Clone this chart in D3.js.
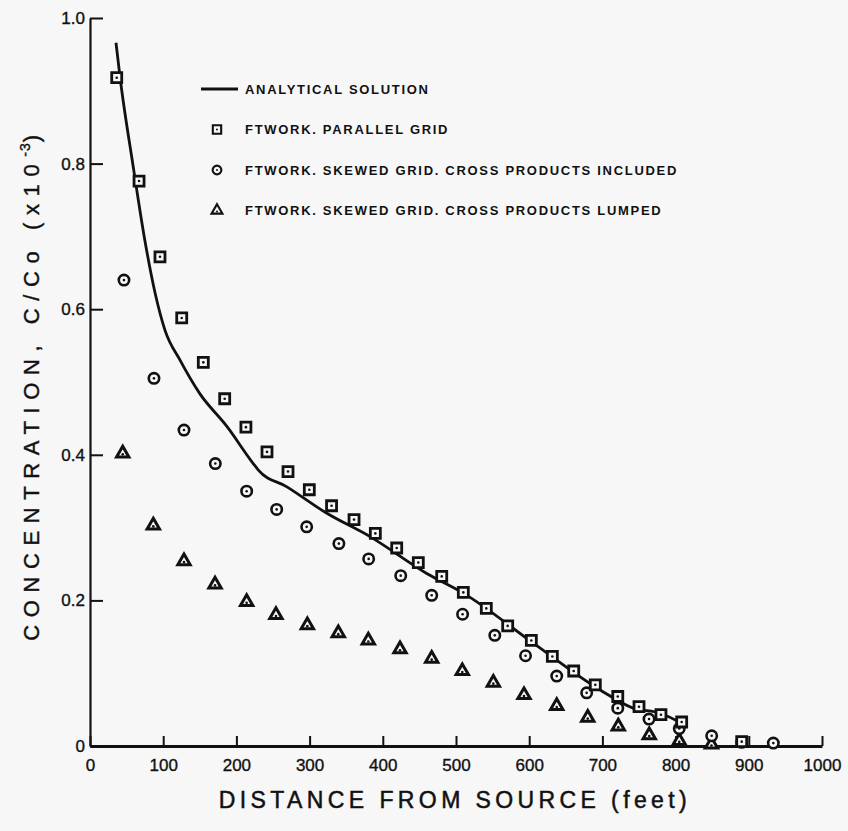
<!DOCTYPE html>
<html>
<head>
<meta charset="utf-8">
<script src="https://cdnjs.cloudflare.com/ajax/libs/d3/7.8.5/d3.min.js"></script>
<style>
  html, body { margin:0; padding:0; background:#f7f7f7; }
  svg { display:block; }
  text { font-family: "Liberation Sans", Arial, Helvetica, sans-serif; fill:#111; }
</style>
</head>
<body>
<div id="chart"></div>
<script>
  ////////////// DATA: distance (feet), C/Co (x10^-3) //////////////
  var analytical = [
    [35.5,0.966],[41,0.919],[59,0.796],[74,0.700],[89,0.622],[102.5,0.571],[123,0.530],
    [150,0.484],[187,0.439],[223,0.388],[230,0.379],[269,0.356],[323,0.320],
    [382,0.288],[460,0.237],[510,0.210],[606,0.141],[697,0.077],[742,0.052],
    [779,0.045],[808,0.031],[813,0.028]
  ]
  var parallelGrid = [
    [36.5,0.918],[67,0.776],[95.6,0.672],[125.3,0.588],[154.8,0.527],[184,0.477],
    [213,0.438],[241.8,0.404],[270.5,0.377],[299.6,0.352],[330,0.330],[360.7,0.311],
    [389.8,0.292],[419,0.272],[448.5,0.252],[480.5,0.233],[510,0.211],[541.4,0.189],
    [570.6,0.165],[602.9,0.145],[631.6,0.123],[660.8,0.103],[690.3,0.084],[721,0.068],
    [750,0.054],[780,0.043],[808.3,0.033],[890.3,0.006]
  ]
  var skewedIncluded = [
    [46.4,0.640],[87.4,0.505],[128.4,0.434],[171.2,0.388],[214,0.350],[255,0.325],
    [296,0.301],[340,0.278],[380.7,0.257],[424.5,0.234],[466.8,0.207],[509,0.181],
    [553,0.152],[595,0.124],[637.6,0.096],[678.5,0.073],[721,0.052],[763.7,0.037],
    [805,0.024],[849.3,0.014],[890.3,0.005],[933.5,0.004]
  ]
  var skewedLumped = [
    [44.7,0.402],[86.5,0.303],[128.4,0.254],[170.8,0.222],[214,0.198],[254,0.180],
    [296.9,0.166],[339.2,0.155],[380.2,0.145],[423.5,0.133],[466.8,0.120],[508.6,0.103],
    [551,0.087],[592.9,0.070],[637.6,0.055],[680,0.039],[721.7,0.027],[764,0.015],
    [805,0.007],[849,0.002]
  ]
  var xTicks = [0,100,200,300,400,500,600,700,800,900,1000]
  var yTicks = [0,0.2,0.4,0.6,0.8,1.0]
  var yTickLabels = ['0','0.2','0.4','0.6','0.8','1.0']
  var legendLabels = [
    'ANALYTICAL SOLUTION',
    'FTWORK. PARALLEL GRID',
    'FTWORK. SKEWED GRID. CROSS PRODUCTS INCLUDED',
    'FTWORK. SKEWED GRID. CROSS PRODUCTS LUMPED'
  ]
  var legendSymbols = ['line','square','circle','triangle']

  var w = 848
  var h = 831
  var ink = '#111'

  var svg = d3.select('#chart')
              .append('svg')
              .attr('width', w)
              .attr('height', h)

  svg.append('rect').attr('width', w).attr('height', h).attr('fill', '#f7f7f7')

  var x = d3.scaleLinear().domain([0, 1000]).range([90, 822])
  var y = d3.scaleLinear().domain([0, 1]).range([746, 18])

  ////////////// AXES //////////////
  var xAxis = d3.axisBottom(x)
                .tickValues(xTicks)
                .tickFormat(d3.format('d'))
                .tickSizeInner(-10)
                .tickSizeOuter(0)
                .tickPadding(13)

  var yAxis = d3.axisLeft(y)
                .tickValues(yTicks)
                .tickFormat(function(d, i){ return yTickLabels[i] })
                .tickSizeInner(-13)
                .tickSizeOuter(0)
                .tickPadding(5)

  var gx = svg.append('g')
    .attr('transform', 'translate(0,' + y(0) + ')')
    .call(xAxis)
  gx.select('.domain').attr('stroke', ink).attr('stroke-width', 3)
  gx.selectAll('.tick line').attr('stroke', ink).attr('stroke-width', 2)
  gx.selectAll('.tick text')
    .attr('fill', ink)
    .attr('stroke', ink)
    .attr('stroke-width', 0.35)
    .style('font-size', '17px')
    .style('font-family', '"Liberation Sans", Arial, sans-serif')

  var gy = svg.append('g')
    .attr('transform', 'translate(' + x(0) + ',0)')
    .call(yAxis)
  gy.select('.domain').attr('stroke', ink).attr('stroke-width', 2.2)
  gy.selectAll('.tick line').attr('stroke', ink).attr('stroke-width', 2)
  gy.selectAll('.tick text')
    .attr('fill', ink)
    .attr('stroke', ink)
    .attr('stroke-width', 0.35)
    .style('font-size', '17px')
    .style('font-family', '"Liberation Sans", Arial, sans-serif')

  ////////////// AXIS TITLES //////////////
  svg.append('text')
    .attr('x', 455)
    .attr('y', 808)
    .attr('text-anchor', 'middle')
    .style('font-size', '23px')
    .style('letter-spacing', '4.4px')
    .attr('stroke', ink)
    .attr('stroke-width', 0.5)
    .text('DISTANCE FROM SOURCE (feet)')

  var yt = svg.append('text')
    .attr('transform', 'translate(39,384) rotate(-90)')
    .attr('text-anchor', 'middle')
    .style('font-size', '22px')
    .style('letter-spacing', '7.6px')
    .attr('stroke', ink)
    .attr('stroke-width', 0.4)
  yt.append('tspan').text('CONCENTRATION, C/Co (x10')
  yt.append('tspan').attr('dy', -9).style('font-size', '14px').style('letter-spacing', '1px').text('-3')
  yt.append('tspan').attr('dy', 9).text(')')

  ////////////// SERIES //////////////
  var line = d3.line()
    .curve(d3.curveMonotoneX)
    .x(function(d){ return x(d[0]) })
    .y(function(d){ return y(d[1]) })

  svg.append('path')
    .datum(analytical)
    .attr('d', line)
    .attr('fill', 'none')
    .attr('stroke', ink)
    .attr('stroke-width', 2.8)
    .attr('stroke-linejoin', 'round')

  function markers(data, type, size, sw){
    var sym = d3.symbol().type(type).size(size)
    var g = svg.append('g')
    var pts = g.selectAll('g')
      .data(data)
      .enter()
      .append('g')
      .attr('transform', function(d){ return 'translate(' + x(d[0]) + ',' + y(d[1]) + ')' })
    pts.append('path')
      .attr('d', sym)
      .attr('fill', '#f7f7f7')
      .attr('stroke', ink)
      .attr('stroke-width', sw)
    pts.append('circle')
      .attr('r', 1.3)
      .attr('cy', type === d3.symbolTriangle ? 1 : 0)
      .attr('fill', ink)
  }

  markers(skewedLumped, d3.symbolTriangle, 66, 3)
  markers(skewedIncluded, d3.symbolCircle, 85, 2.6)
  markers(parallelGrid, d3.symbolSquare, 100, 2.8)

  ////////////// LEGEND //////////////
  var legend = svg.append('g')
  var rows = legend.selectAll('g')
    .data(legendLabels)
    .enter()
    .append('g')
    .attr('transform', function(d, i){ return 'translate(217,' + (89 + i * 40.5) + ')' })

  rows.each(function(d, i){
    var r = d3.select(this)
    var kind = legendSymbols[i]
    if (kind === 'line'){
      r.append('line').attr('x1', -16).attr('x2', 21).attr('stroke', ink).attr('stroke-width', 2.8)
    } else {
      var t = kind === 'square' ? d3.symbolSquare : kind === 'circle' ? d3.symbolCircle : d3.symbolTriangle
      var s = kind === 'square' ? 70 : kind === 'circle' ? 60 : 52
      r.append('path').attr('d', d3.symbol().type(t).size(s)())
        .attr('fill', 'none').attr('stroke', ink).attr('stroke-width', 2.1)
      r.append('circle').attr('r', 1).attr('cy', kind === 'triangle' ? 1 : 0).attr('fill', ink)
    }
    r.append('text')
      .attr('x', 28)
      .attr('dy', '0.36em')
      .style('font-size', '13px')
      .style('font-weight', 'bold')
      .style('letter-spacing', '1.7px')
      .text(d)
  })
</script>
</body>
</html>
